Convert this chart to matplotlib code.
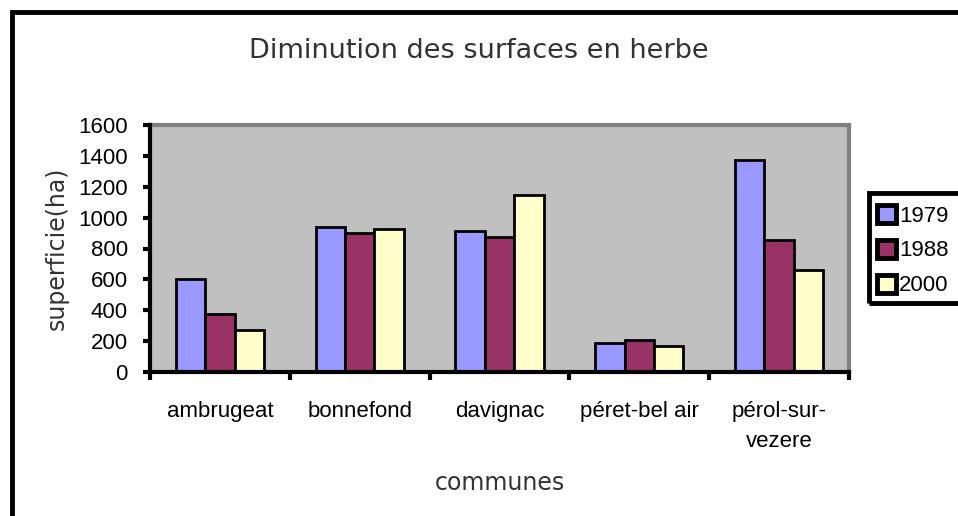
import numpy as np
import matplotlib
matplotlib.use("Agg")
import matplotlib.pyplot as plt
from matplotlib.patches import Rectangle, Patch

# donnees
communes = ["ambrugeat", "bonnefond", "davignac", "péret-bel air", "pérol-sur-\nvezere"]
annees = ["1979", "1988", "2000"]
v1979 = [603, 940, 915, 186, 1375]
v1988 = [378, 900, 877, 207, 855]
v2000 = [272, 928, 1148, 168, 662]
couleurs = ["#9999FF", "#993366", "#FFFFCC"]

plt.rcParams['font.family'] = ['Liberation Sans', 'DejaVu Sans']
leger = dict(family="DejaVu Sans", color="#333333")

fig = plt.figure(figsize=(9.58, 5.16), dpi=100)
ax = fig.add_axes([150/958, 1 - 372/516, 699/958, 247/516])
ax.set_facecolor("#C0C0C0")

x = np.arange(len(communes))
w = 0.21
for k, (vals, c, lab) in enumerate(zip([v1979, v1988, v2000], couleurs, annees)):
    ax.bar(x + (k - 1) * w, vals, w, color=c, edgecolor="black", linewidth=2, label=lab, zorder=2)

ax.set_xlim(-0.5, len(communes) - 0.5)
ax.set_ylim(0, 1600)
ax.set_yticks(range(0, 1601, 200))
ax.tick_params(axis="y", direction="out", length=5, width=3, labelsize=16, pad=11)
ax.set_xticks(x)
ax.set_xticklabels(communes, fontsize=16, linespacing=1.55)
ax.tick_params(axis="x", which="major", length=0, pad=21)
ax.set_xticks(np.arange(-0.5, len(communes)), minor=True)
ax.tick_params(axis="x", which="minor", direction="out", length=6, width=3)

for s in ["left", "bottom"]:
    ax.spines[s].set_linewidth(3)
    ax.spines[s].set_color("black")
    ax.spines[s].set_zorder(3)
for s in ["top", "right"]:
    ax.spines[s].set_linewidth(3)
    ax.spines[s].set_color("#808080")

ax.set_ylabel("superficie(ha)", fontsize=17, labelpad=7, **leger)
ax.set_xlabel("communes", fontsize=17, labelpad=14, **leger)
fig.text(0.5, 1 - 51/516, "Diminution des surfaces en herbe", ha="center", va="center",
         fontsize=19.5, **leger)

# legende (le cadre sort a droite de l'image)
handles = [Patch(facecolor=c, edgecolor="black", linewidth=3.5) for c in couleurs]
leg = fig.legend(handles, annees, loc="upper left",
                 bbox_to_anchor=(877/958, 1 - 205/516),
                 fontsize=16, frameon=False, handlelength=0.85, handleheight=0.85,
                 handletextpad=0.15, borderpad=0.0, labelspacing=0.6, borderaxespad=0)
fig.patches.append(Rectangle((869/958, 1 - 303/516), 0.2, 110/516, transform=fig.transFigure,
                             fill=False, edgecolor="black", linewidth=3.5, clip_on=False))

# cadre exterieur
fig.patches.append(Rectangle((12/958, -0.1), 1.2, 1.1 - 12/516, transform=fig.transFigure,
                             fill=False, edgecolor="black", linewidth=3.5, clip_on=False))

fig.savefig("out.png", dpi=100)
